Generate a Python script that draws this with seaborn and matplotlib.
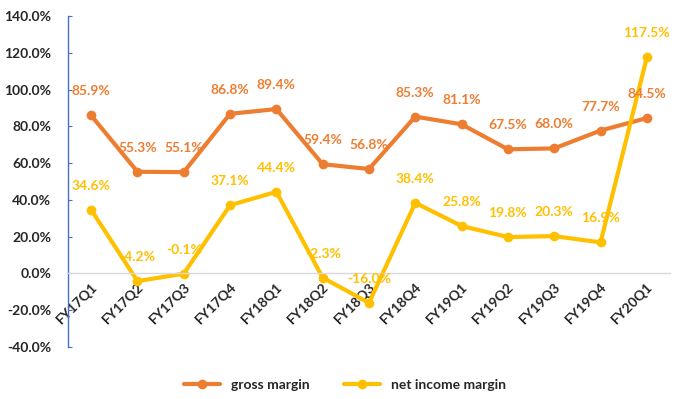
import numpy as np
import pandas as pd
import matplotlib
matplotlib.use('Agg')
import matplotlib.pyplot as plt
import seaborn as sns
from matplotlib.ticker import FuncFormatter

# 데이터
quarters = ['FY17Q1', 'FY17Q2', 'FY17Q3', 'FY17Q4', 'FY18Q1', 'FY18Q2', 'FY18Q3',
            'FY18Q4', 'FY19Q1', 'FY19Q2', 'FY19Q3', 'FY19Q4', 'FY20Q1']
gross_margin = [85.9, 55.3, 55.1, 86.8, 89.4, 59.4, 56.8, 85.3, 81.1, 67.5, 68.0, 77.7, 84.5]
net_margin = [34.6, -4.2, -0.1, 37.1, 44.4, -2.3, -16.0, 38.4, 25.8, 19.8, 20.3, 16.9, 117.5]
series_names = ['gross margin', 'net income margin']
colors = ['#ED7D31', '#FFC000']

df = pd.DataFrame({
    'quarter': quarters * 2,
    'x': list(range(len(quarters))) * 2,
    'value': gross_margin + net_margin,
    'series': [series_names[0]] * len(quarters) + [series_names[1]] * len(quarters),
})

sns.set_style('white')
plt.rcParams['font.family'] = ['Lato', 'DejaVu Sans']

fig = plt.figure(figsize=(6.85, 3.99), dpi=100)
ax = fig.add_axes([68 / 685, 1 - 347 / 399, (670 - 68) / 685, (347 - 16) / 399])

sns.lineplot(data=df, x='x', y='value', hue='series', palette=colors,
             marker='o', markersize=7, markeredgewidth=0, linewidth=3,
             ax=ax, legend=True)

# 데이터 라벨
for vals, c in zip([gross_margin, net_margin], colors):
    for i, v in enumerate(vals):
        ax.annotate(f'{v:.1f}%', (i, v), xytext=(0, 13), textcoords='offset points',
                    ha='center', va='bottom', color=c, fontsize=10, fontweight='bold')

ax.set_ylim(-40, 140)
ax.set_yticks(np.arange(-40, 141, 20))
ax.yaxis.set_major_formatter(FuncFormatter(lambda v, p: f'{v:.1f}%'))
ax.set_xlim(-0.5, len(quarters) - 0.5)
ax.set_xticks(range(len(quarters)))
ax.set_xticklabels(quarters)

ax.spines['top'].set_visible(False)
ax.spines['right'].set_visible(False)
ax.spines['bottom'].set_position(('data', 0))
ax.spines['bottom'].set_color('#D9D9D9')
ax.spines['bottom'].set_linewidth(1)
ax.spines['left'].set_color('#4472C4')
ax.spines['left'].set_linewidth(1)
ax.tick_params(axis='x', length=0, pad=5, labelrotation=45, labelsize=10)
ax.tick_params(axis='y', direction='in', length=3, color='#4472C4', pad=12, left=True, labelsize=10)
ax.set_xlabel('')
ax.set_ylabel('')

for lab in ax.get_xticklabels():
    lab.set_ha('right')
    lab.set_rotation_mode('anchor')
    lab.set_fontweight('bold')
for lab in ax.get_yticklabels():
    lab.set_fontweight('bold')

leg = ax.legend(loc='lower center', bbox_to_anchor=(0.46, -0.17), ncol=2, frameon=False,
                handlelength=2.6, columnspacing=2.5, prop={'weight': 'bold', 'size': 10})
for h in leg.legend_handles:
    h.set_linewidth(3)

fig.savefig('out.png', dpi=100)
